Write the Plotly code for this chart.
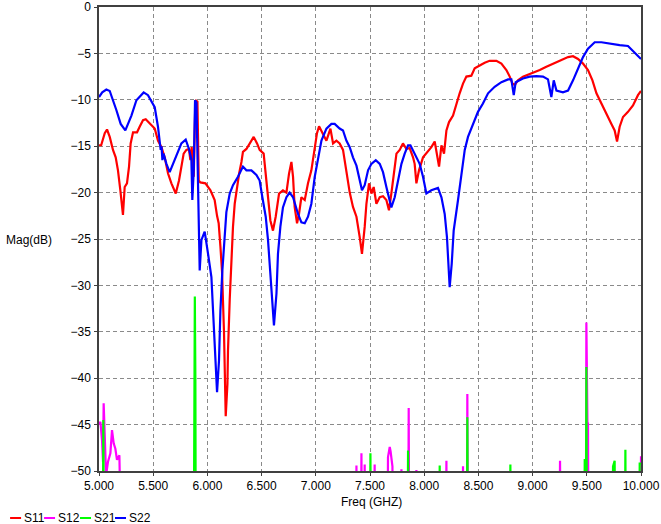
import plotly.graph_objects as go

# ---------------- data ----------------
s11_f = [5.000, 5.020, 5.053, 5.074, 5.099, 5.129, 5.154, 5.175, 5.197, 5.212, 5.221, 5.237, 5.258, 5.277,
         5.292, 5.314, 5.351, 5.375, 5.406, 5.431, 5.468, 5.514, 5.544, 5.576, 5.606, 5.637, 5.668, 5.708,
         5.738, 5.760, 5.781, 5.806, 5.830, 5.843, 5.855, 5.874, 5.889, 5.908, 5.920, 5.935, 5.982, 6.028,
         6.067, 6.089, 6.104, 6.120, 6.135, 6.153, 6.162, 6.169, 6.185, 6.190, 6.206, 6.221, 6.236, 6.252,
         6.268, 6.292, 6.314, 6.328, 6.360, 6.397, 6.427, 6.458, 6.482, 6.519, 6.538, 6.559, 6.581, 6.605,
         6.630, 6.661, 6.697, 6.729, 6.753, 6.775, 6.790, 6.805, 6.827, 6.845, 6.867, 6.898, 6.928, 6.959,
         6.990, 7.011, 7.030, 7.066, 7.098, 7.135, 7.159, 7.190, 7.220, 7.251, 7.282, 7.313, 7.343, 7.375,
         7.405, 7.426, 7.451, 7.467, 7.491, 7.513, 7.534, 7.559, 7.590, 7.620, 7.651, 7.675, 7.697, 7.719,
         7.744, 7.774, 7.804, 7.836, 7.866, 7.897, 7.912, 7.928, 7.952, 7.989, 8.035, 8.066, 8.097, 8.113,
         8.137, 8.159, 8.183, 8.205, 8.229, 8.266, 8.297, 8.327, 8.358, 8.389, 8.435, 8.466, 8.512, 8.558,
         8.604, 8.666, 8.712, 8.758, 8.789, 8.814, 8.835, 8.865, 8.911, 8.958, 9.019, 9.066, 9.127, 9.188,
         9.266, 9.327, 9.373, 9.419, 9.465, 9.511, 9.552, 9.589, 9.635, 9.665, 9.696, 9.727, 9.757, 9.779,
         9.803, 9.834, 9.880, 9.926, 9.972, 10.000]
s11_db = [-14.9, -14.9, -13.6, -13.2, -14.0, -15.4, -16.2, -17.6, -19.75, -21.55, -22.4, -19.4, -19.0, -17.2,
          -14.7, -13.5, -13.5, -12.9, -12.2, -12.1, -12.6, -13.1, -14.4, -15.1, -16.2, -17.95, -19.0, -20.1,
          -18.7, -17.2, -15.8, -15.4, -15.3, -16.5, -15.1, -18.3, -10.05, -10.2, -18.7, -18.9, -19.0, -19.75,
          -20.8, -22.5, -23.3, -25.8, -28.5, -35.0, -40.2, -44.1, -40.6, -37.0, -31.5, -27.3, -23.7, -21.2,
          -19.75, -18.0, -16.7, -15.6, -15.3, -14.5, -14.0, -14.7, -15.4, -15.8, -17.95, -20.8, -23.0, -24.1,
          -22.6, -20.1, -19.75, -20.0, -17.95, -16.7, -18.3, -21.55, -23.3, -22.3, -20.5, -20.8, -19.0, -17.6,
          -15.4, -13.6, -12.85, -13.6, -14.4, -13.1, -14.7, -14.4, -14.7, -15.4, -17.95, -20.0, -21.55, -22.6,
          -24.8, -26.6, -23.7, -21.2, -19.0, -20.1, -19.4, -21.2, -20.5, -20.4, -20.8, -21.9, -20.1, -17.95,
          -15.8, -15.4, -14.7, -15.3, -15.2, -16.2, -16.9, -19.0, -17.6, -16.2, -15.6, -15.1, -14.5, -15.8,
          -17.2, -14.9, -15.8, -13.3, -12.4, -11.7, -10.4, -9.3, -8.25, -7.5, -7.4, -6.6, -6.3, -6.0,
          -5.8, -5.8, -6.1, -6.8, -7.5, -8.25, -8.4, -7.9, -7.5, -7.3, -7.0, -6.8, -6.45, -6.1,
          -5.7, -5.4, -5.3, -5.6, -6.1, -6.8, -7.9, -9.3, -10.4, -11.3, -12.0, -12.6, -13.3, -14.5,
          -12.9, -11.85, -11.3, -10.6, -9.5, -9.05]

s22_f = [5.000, 5.030, 5.068, 5.099, 5.160, 5.200, 5.243, 5.299, 5.345, 5.412, 5.452, 5.514, 5.544, 5.569,
         5.577, 5.585, 5.595, 5.622, 5.652, 5.698, 5.760, 5.800, 5.830, 5.852, 5.861, 5.874, 5.886, 5.899,
         5.913, 5.920, 5.929, 5.945, 5.975, 6.006, 6.037, 6.052, 6.067, 6.083, 6.089, 6.107, 6.120, 6.138,
         6.160, 6.175, 6.206, 6.236, 6.282, 6.328, 6.360, 6.406, 6.452, 6.482, 6.507, 6.538, 6.559, 6.581,
         6.600, 6.614, 6.637, 6.651, 6.673, 6.697, 6.729, 6.759, 6.790, 6.836, 6.867, 6.898, 6.928, 6.959,
         6.990, 7.020, 7.052, 7.098, 7.144, 7.174, 7.220, 7.251, 7.282, 7.313, 7.343, 7.375, 7.405, 7.426,
         7.451, 7.482, 7.513, 7.553, 7.590, 7.620, 7.651, 7.682, 7.697, 7.728, 7.758, 7.790, 7.820, 7.851,
         7.873, 7.912, 7.958, 7.989, 8.020, 8.066, 8.127, 8.159, 8.189, 8.210, 8.226, 8.235, 8.254, 8.272,
         8.312, 8.343, 8.374, 8.404, 8.450, 8.496, 8.542, 8.589, 8.650, 8.712, 8.773, 8.804, 8.826, 8.844,
         8.911, 8.973, 9.035, 9.096, 9.142, 9.173, 9.195, 9.220, 9.280, 9.327, 9.373, 9.419, 9.465, 9.511,
         9.573, 9.635, 9.711, 9.803, 9.880, 9.926, 9.972, 10.000]
s22_db = [-9.7, -9.2, -8.9, -9.05, -11.1, -12.6, -13.3, -11.7, -10.05, -9.2, -9.5, -10.8, -12.9, -15.4,
          -15.0, -16.5, -15.8, -16.9, -17.8, -16.5, -14.7, -14.3, -15.3, -16.4, -20.8, -17.6, -10.05, -10.3,
          -20.8, -26.2, -28.4, -25.1, -24.2, -26.6, -29.1, -32.7, -36.6, -39.9, -41.5, -38.1, -32.7, -28.4,
          -24.4, -22.1, -20.1, -19.2, -18.3, -17.2, -17.6, -17.6, -18.1, -18.7, -20.5, -22.6, -25.1, -28.4,
          -31.6, -34.3, -30.9, -26.6, -23.7, -21.6, -20.5, -20.0, -20.5, -22.3, -23.2, -23.3, -22.6, -21.2,
          -18.3, -16.2, -14.4, -13.1, -12.6, -12.6, -13.1, -13.3, -14.4, -15.1, -16.2, -17.1, -18.7, -19.75,
          -19.2, -17.6, -16.9, -16.5, -16.9, -17.8, -19.4, -21.0, -21.6, -20.5, -18.7, -16.9, -15.8, -14.9,
          -14.9, -15.8, -16.9, -18.3, -20.1, -19.75, -19.5, -20.5, -22.3, -24.8, -28.4, -30.2, -27.65, -24.1,
          -20.8, -17.95, -15.4, -14.0, -12.6, -11.3, -10.4, -9.3, -8.6, -8.1, -7.8, -7.8, -9.5, -8.1,
          -7.7, -7.5, -7.45, -7.5, -7.8, -9.7, -7.9, -9.0, -9.2, -9.0, -7.9, -6.6, -5.4, -4.5,
          -3.8, -3.8, -3.95, -4.1, -4.2, -4.7, -5.2, -5.6]

s12_f = [5.000, 5.013, 5.028, 5.037, 5.043, 5.053, 5.065, 5.083, 5.105, 5.120, 5.136, 5.151, 5.166, 5.188, 5.207,
         7.370, 7.375, 7.380, 7.416, 7.421, 7.426, 7.446, 7.451, 7.456,
         7.538, 7.543, 7.548, 7.661, 7.666, 7.682, 7.690, 7.707, 7.712,
         7.785, 7.790, 7.795, 7.852, 7.857, 7.862, 7.923, 7.928, 7.933,
         8.200, 8.205, 8.210, 8.353, 8.358, 8.363, 8.393, 8.398, 8.403,
         9.246, 9.253, 9.260, 9.491, 9.496, 9.506, 9.511, 9.516, 9.995, 10.000]
s12_db = [-45.0, -44.7, -46.7, -49.0, -42.7, -46.7, -50.5, -49.0, -48.1, -45.6, -47.05, -47.6, -48.8, -48.3, -60,
          -60, -49.4, -60, -60, -48.1, -60, -60, -49.3, -60,
          -60, -49.3, -60, -60, -48.5, -47.4, -47.9, -49.5, -60,
          -60, -49.8, -60, -60, -43.2, -60, -60, -49.9, -60,
          -60, -48.9, -60, -60, -49.5, -60, -60, -41.7, -60,
          -60, -48.9, -60, -60, -34.0, -44.9, -44.9, -60, -60, -48.4]

s21_f = [5.000, 5.035, 5.040, 5.045, 5.874, 5.878, 5.884, 5.889, 5.893,
         7.499, 7.504, 7.509, 7.846, 7.851, 7.856, 8.138, 8.143, 8.148,
         8.393, 8.398, 8.403, 8.790, 8.795, 8.800, 9.476, 9.481, 9.491, 9.496, 9.501,
         9.737, 9.742, 9.757, 9.762, 9.851, 9.856, 9.861, 9.983, 9.988, 10.000]
s21_db = [-60, -60, -44.5, -60, -60, -47.0, -31.2, -40.0, -60,
          -60, -48.1, -60, -60, -47.8, -60, -60, -49.4, -60,
          -60, -44.2, -60, -60, -49.3, -60, -60, -48.7, -60, -38.8, -60,
          -60, -49.5, -48.9, -60, -60, -47.7, -60, -60, -49.2, -49.2]

names = ["S11", "S12", "S21", "S22"]
colors = ["#FF0000", "#FF00FF", "#00FF00", "#0000FF"]
series = [(s11_f, s11_db), (s12_f, s12_db), (s21_f, s21_db), (s22_f, s22_db)]

x_ticks = [5.0, 5.5, 6.0, 6.5, 7.0, 7.5, 8.0, 8.5, 9.0, 9.5, 10.0]
y_ticks = [0, -5, -10, -15, -20, -25, -30, -35, -40, -45, -50]

# ---------------- figure ----------------
fig = go.Figure()
for (fx, fy), nm, col in zip(series, names, colors):
    fig.add_trace(go.Scatter(x=fx, y=fy, mode="lines", name=nm,
                             line=dict(color=col, width=2.2), showlegend=False))

FONT = "Liberation Sans, Arial, sans-serif"
L, R, T, B = 99, 19.5, 7, 53
W, H = 661, 524
pw = W - L - R
ph = H - T - B

axis_common = dict(showgrid=True, gridcolor="#8a8a8a", gridwidth=1, griddash="4px,3px",
                   showline=True, linecolor="#404040", linewidth=1.5, mirror=True,
                   ticks="outside", ticklen=3, tickcolor="#404040", zeroline=False,
                   automargin=False,
                   tickfont=dict(family=FONT, size=12, color="#000000"))

fig.update_layout(
    width=W, height=H,
    margin=dict(l=L, r=R, t=T, b=B, autoexpand=False),
    paper_bgcolor="white", plot_bgcolor="white",
    xaxis=dict(range=[5, 10], tickvals=x_ticks, tickformat=".3f", **axis_common),
    yaxis=dict(range=[-50, 0], tickvals=y_ticks, ticklabelstandoff=1, **axis_common),
    showlegend=False,
)

def px2x(px):
    return (px - L) / pw

def py2y(py):
    return (H - B - py) / ph

ann = [
    dict(text="Mag(dB)", x=px2x(29), y=py2y(240)),
    dict(text="Freq (GHZ)", x=px2x(372), y=py2y(502)),
]
for a in ann:
    fig.add_annotation(xref="paper", yref="paper", showarrow=False,
                       xanchor="center", yanchor="middle",
                       font=dict(family=FONT, size=12, color="#000"), **a)

# legend drawn below the plot
leg_x = [10, 44, 80, 115]
for i, (nm, col) in enumerate(zip(names, colors)):
    x0 = leg_x[i]
    fig.add_shape(type="line", xref="paper", yref="paper",
                  x0=px2x(x0), x1=px2x(x0 + 11), y0=py2y(518), y1=py2y(518),
                  line=dict(color=col, width=2))
    fig.add_annotation(xref="paper", yref="paper", showarrow=False,
                       xanchor="left", yanchor="middle",
                       x=px2x(x0 + 12), y=py2y(518), text=nm,
                       font=dict(family=FONT, size=12, color="#000"))

fig.write_html("out.html")
